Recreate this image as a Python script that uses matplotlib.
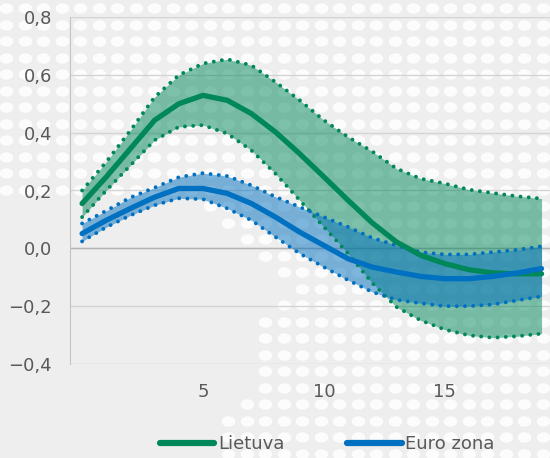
import numpy as np
import matplotlib
matplotlib.use("Agg")
import matplotlib.pyplot as plt
from matplotlib.path import Path
from matplotlib.ticker import FuncFormatter

# periods (x axis categories)
periods = [0, 1, 2, 3, 4, 5, 6, 7, 8, 9, 10, 11, 12, 13, 14, 15, 16, 17, 18, 19]
xtick_vals = [5, 10, 15]

lt_mid = [0.155, 0.247, 0.345, 0.443, 0.500, 0.529, 0.512, 0.466, 0.402, 0.327,
          0.247, 0.166, 0.088, 0.022, -0.024, -0.053, -0.074, -0.085, -0.088, -0.088]
lt_up = [0.200, 0.299, 0.408, 0.523, 0.599, 0.639, 0.654, 0.633, 0.575, 0.512,
         0.443, 0.385, 0.335, 0.276, 0.241, 0.224, 0.203, 0.191, 0.180, 0.172]
lt_low = [0.108, 0.200, 0.287, 0.374, 0.420, 0.426, 0.397, 0.339, 0.258, 0.166,
          0.074, -0.018, -0.120, -0.203, -0.249, -0.281, -0.301, -0.309, -0.304, -0.295]

ez_mid = [0.051, 0.097, 0.138, 0.177, 0.207, 0.207, 0.190, 0.155, 0.108, 0.056,
          0.010, -0.036, -0.065, -0.082, -0.097, -0.105, -0.105, -0.097, -0.085, -0.070]
ez_up = [0.086, 0.130, 0.176, 0.210, 0.246, 0.260, 0.250, 0.218, 0.178, 0.143,
         0.108, 0.074, 0.036, 0.010, -0.013, -0.021, -0.021, -0.013, -0.005, 0.007]
ez_low = [0.024, 0.073, 0.114, 0.149, 0.173, 0.170, 0.138, 0.097, 0.039, -0.018,
          -0.065, -0.110, -0.151, -0.178, -0.190, -0.200, -0.200, -0.194, -0.180, -0.166]

GREEN = "#00875a"
BLUE = "#0070c0"
TXT = "#595959"
BG = "#eeeeee"

W, H = 550, 458
fig = plt.figure(figsize=(W / 100, H / 100), dpi=100, facecolor=BG)

# decorative dotted background
bg = fig.add_axes([0, 0, 1, 1], zorder=0)
bg.set_xlim(0, W)
bg.set_ylim(H, 0)
bg.axis("off")
gx, gy = np.meshgrid(np.arange(6, W + 10, 18.5), np.arange(8, H + 10, 16.5))
pts = np.column_stack([gx.ravel(), gy.ravel()])
plain = Path([(0, 205), (200, 205), (228, 228), (300, 292), (248, 330),
              (248, 395), (216, 410), (216, 470), (0, 470)])
pts = pts[~plain.contains_points(pts)]
t = np.linspace(0, 2 * np.pi, 40)
ell = Path(np.column_stack([1.3 * np.cos(t), np.sin(t)]))
bg.scatter(pts[:, 0], pts[:, 1], marker=ell, s=95, color="white", alpha=0.85, linewidths=0)

ax = fig.add_axes([70 / W, 1 - 364 / H, 1 - 70 / W, (364 - 17) / H], zorder=1)
ax.set_facecolor("none")

ax.fill_between(periods, lt_low, lt_up, color=GREEN, alpha=0.5, linewidth=0, zorder=2)
ax.fill_between(periods, ez_low, ez_up, color=BLUE, alpha=0.5, linewidth=0, zorder=3)

dot = (0, (0.01, 2.1))
for s, c in [(lt_up, GREEN), (lt_low, GREEN), (ez_up, BLUE), (ez_low, BLUE)]:
    ax.plot(periods, s, color=c, lw=2.8, linestyle=dot, dash_capstyle="round", zorder=4)

ax.plot(periods, lt_mid, color=GREEN, lw=3.8, solid_capstyle="round", label="Lietuva", zorder=5)
ax.plot(periods, ez_mid, color=BLUE, lw=3.8, solid_capstyle="round", label="Euro zona", zorder=6)

ax.set_xlim(-0.5, 19.35)
ax.set_ylim(-0.4, 0.8)
ax.set_yticks([-0.4, -0.2, 0.0, 0.2, 0.4, 0.6, 0.8])
ax.set_xticks(xtick_vals)
ax.yaxis.set_major_formatter(FuncFormatter(lambda v, p: f"{v:.1f}".replace(".", ",").replace("-", "\u2212")))
ax.tick_params(length=0, labelsize=13, labelcolor=TXT)
ax.tick_params(axis="y", pad=13)
ax.tick_params(axis="x", pad=14)

ax.grid(axis="y", color="#d4d4d4", lw=1)
ax.set_axisbelow(True)
ax.axhline(0, color="#b4b4b4", lw=1, zorder=1)
for side in ["top", "right", "bottom"]:
    ax.spines[side].set_visible(False)
ax.spines["left"].set_color("#c4c4c4")

leg = fig.legend(*ax.get_legend_handles_labels(), loc="center", bbox_to_anchor=(0.595, 0.03),
                 ncol=2, frameon=False, fontsize=13, handlelength=3.0, handletextpad=0.2,
                 columnspacing=3.5, labelcolor=TXT)
for h in leg.get_lines():
    h.set_linewidth(4.5)

fig.savefig("out.png", dpi=100, facecolor=BG)
